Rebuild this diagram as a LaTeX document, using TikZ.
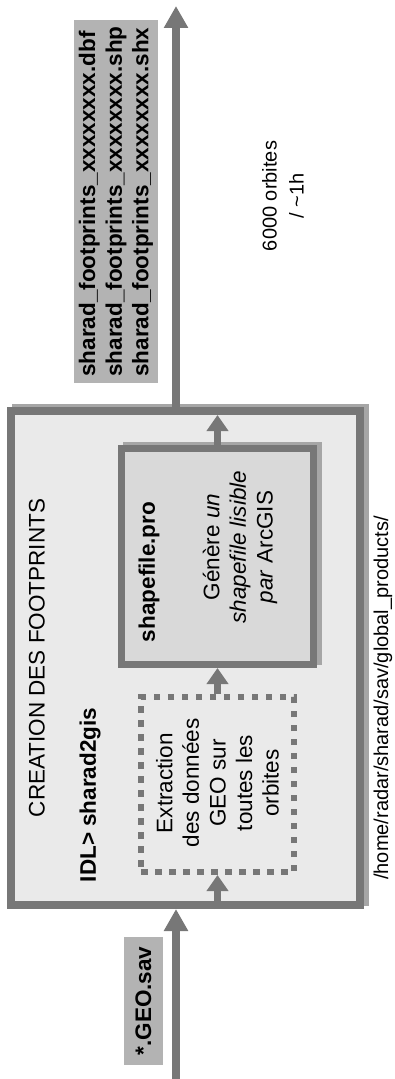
\documentclass[tikz,border=0pt]{standalone}
\usepackage{fontspec}
\setmainfont{Liberation Sans}
\usetikzlibrary{arrows.meta}
\definecolor{arrowgray}{HTML}{777777}
\definecolor{shadowgray}{HTML}{A6A6A6}
\definecolor{outerfill}{HTML}{EAEAEA}
\definecolor{procfill}{HTML}{D9D9D9}
\definecolor{labelfill}{HTML}{B3B3B3}

\begin{document}
\begin{tikzpicture}[x=0.5pt,y=-0.5pt,
    flow/.style={draw=arrowgray, line width=3.5pt, -{Triangle[width=10.5pt,length=8pt]}},
    mainflow/.style={flow, line width=3.8pt, -{Triangle[width=11.5pt,length=11pt]}},
    boxshadow/.style={draw=shadowgray},
    filebox/.style={fill=labelfill, rotate=90, align=left, inner sep=0pt, font=\bfseries\fontsize{11.25pt}{13.3pt}\selectfont},
    txt/.style={rotate=90, align=center, font=\fontsize{11.25pt}{13.3pt}\selectfont},
    smalltxt/.style={rotate=90, align=center, font=\fontsize{10pt}{13.5pt}\selectfont}]
            \useasboundingbox (0,0) rectangle (395,1079);
            % boite principale
            \node[boxshadow, line width=4pt, minimum width=174.5pt, minimum height=247pt] at (190.5,655) {};
            \node[draw=arrowgray, fill=outerfill, line width=4pt, minimum width=174.5pt, minimum height=247pt] (outer) at (185.5,658) {};
            \node[boxshadow, line width=3.5pt, minimum width=96pt, minimum height=108pt] at (222.5,553.5) {};
            \node[draw=arrowgray, fill=procfill, line width=3.5pt, minimum width=96pt, minimum height=108pt] (shp) at (217.5,556.5) {};
            \node[draw=arrowgray, line width=3pt, dash pattern=on 3.25pt off 3.75pt, minimum width=76.5pt, minimum height=87.5pt] (dots) at (217.5,784.5) {};
            % textes
            \node[txt] (title) at (37,658) {CREATION DES FOOTPRINTS};
            \node[txt, font=\bfseries\fontsize{11.25pt}{13.3pt}\selectfont] (idl) at (90,795) {IDL> sharad2gis};
            \node[txt] (extract) at (217.5,783) {Extraction\\des données\\GEO sur\\toutes les\\orbites};
            \node[txt, font=\bfseries\fontsize{11.25pt}{13.3pt}\selectfont] (shpname) at (149,572) {shapefile.pro};
            \node[txt] (shpdesc) at (240,547) {Génère \textit{un}\\\textit{shapefile lisible}\\\textit{par} ArcGIS};
            \node[smalltxt] (path) at (383,698) {/home/radar/sharad/sav/global\_products/};
            \node[smalltxt] (rate) at (283,196) {6000 orbites\\/ \textasciitilde 1h};
            % fichiers
            \node[filebox, minimum width=181.5pt, minimum height=42pt] (files) at (116,201.5) {sharad\_footprints\_xxxxxxxx.dbf\\sharad\_footprints\_xxxxxxxx.shp\\sharad\_footprints\_xxxxxxxx.shx};
            \node[filebox, minimum width=64pt, minimum height=19.5pt] (geo) at (143.5,1001) {*.GEO.sav};
            % fleches
            \coordinate (in) at (176,1079);
            \coordinate (out) at (176,6);
            \draw[mainflow] (in) -- (in |- outer.south);
            \draw[flow] (dots.south |- outer.south) -- (dots.south);
            \draw[flow] (dots.north) -- (shp.south);
            \draw[flow, shorten >=4pt] (shp.north) -- (shp.north |- outer.north);
            \draw[mainflow] (out |- outer.north) -- (out);
        \end{tikzpicture}
\end{document}
